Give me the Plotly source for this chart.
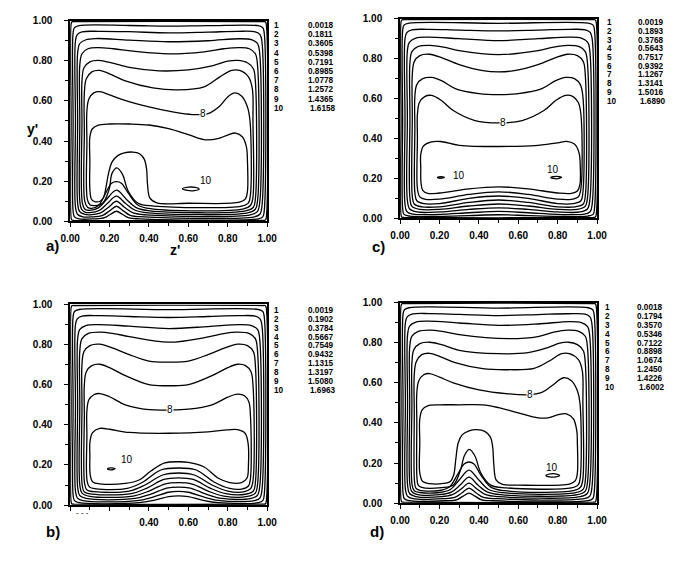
import plotly.graph_objects as go

# ---------------- contour level tables (legend values) ----------------
LEVELS_A = [0.0018, 0.1811, 0.3605, 0.5398, 0.7191, 0.8985, 1.0778, 1.2572, 1.4365, 1.6158]
LEVELS_C = [0.0019, 0.1893, 0.3768, 0.5643, 0.7517, 0.9392, 1.1267, 1.3141, 1.5016, 1.6890]
LEVELS_B = [0.0019, 0.1902, 0.3784, 0.5667, 0.7549, 0.9432, 1.1315, 1.3197, 1.5080, 1.6963]
LEVELS_D = [0.0018, 0.1794, 0.3570, 0.5346, 0.7122, 0.8898, 1.0674, 1.2450, 1.4226, 1.6002]

TICK_VALS = [0.0, 0.2, 0.4, 0.6, 0.8, 1.0]
TICK_TEXT = ["0.00", "0.20", "0.40", "0.60", "0.80", "1.00"]
TICK_TEXT_B_X = ["", "", "0.40", "0.60", "0.80", "1.00"]
MINOR_VALS = [0.1, 0.3, 0.5, 0.7, 0.9]

# ---------------- contour lines: (z', y') ----------------
# panel a
A1 = [(0.005,0.5),(0.005,0.985),(0.009,0.994),(0.02,0.995),(0.98,0.995),(0.991,0.994),(0.995,0.985),(0.995,0.015),(0.991,0.006),(0.98,0.005),(0.02,0.005),(0.009,0.006),(0.005,0.015),(0.005,0.5)]
A2 = [(0.015,0.5),(0.015,0.94),(0.022,0.965),(0.045,0.975),(0.3,0.976),(0.5,0.973),(0.7,0.975),(0.955,0.975),(0.978,0.965),(0.985,0.94),(0.985,0.05),(0.978,0.022),(0.955,0.012),(0.355,0.012),(0.295,0.018),(0.265,0.035),(0.235,0.05),(0.205,0.035),(0.175,0.018),(0.12,0.012),(0.045,0.012),(0.022,0.022),(0.015,0.05),(0.015,0.5)]
A3 = [(0.027,0.5),(0.027,0.9),(0.036,0.93),(0.06,0.944),(0.15,0.947),(0.3,0.945),(0.5,0.939),(0.7,0.943),(0.85,0.947),(0.94,0.944),(0.964,0.93),(0.973,0.9),(0.973,0.07),(0.963,0.035),(0.935,0.022),(0.375,0.022),(0.305,0.03),(0.27,0.052),(0.235,0.075),(0.2,0.052),(0.165,0.03),(0.11,0.022),(0.065,0.022),(0.037,0.035),(0.027,0.07),(0.027,0.5)]
A4 = [(0.038,0.5),(0.038,0.84),(0.048,0.885),(0.08,0.905),(0.13,0.911),(0.3,0.903),(0.5,0.895),(0.7,0.9),(0.86,0.91),(0.92,0.905),(0.952,0.885),(0.962,0.84),(0.962,0.09),(0.95,0.048),(0.915,0.032),(0.385,0.032),(0.32,0.042),(0.275,0.07),(0.235,0.1),(0.195,0.07),(0.155,0.042),(0.1,0.032),(0.075,0.034),(0.048,0.048),(0.038,0.09),(0.038,0.5)]
A5 = [(0.049,0.5),(0.049,0.78),(0.06,0.835),(0.09,0.86),(0.14,0.866),(0.22,0.86),(0.32,0.848),(0.5,0.835),(0.68,0.845),(0.78,0.86),(0.86,0.866),(0.91,0.86),(0.94,0.835),(0.951,0.78),(0.951,0.1),(0.94,0.06),(0.9,0.042),(0.395,0.042),(0.33,0.055),(0.28,0.09),(0.235,0.125),(0.19,0.09),(0.15,0.055),(0.1,0.043),(0.075,0.046),(0.058,0.06),(0.049,0.1),(0.049,0.5)]
A6 = [(0.06,0.5),(0.06,0.7),(0.07,0.765),(0.1,0.795),(0.14,0.802),(0.2,0.792),(0.3,0.767),(0.45,0.75),(0.6,0.755),(0.72,0.775),(0.8,0.798),(0.85,0.802),(0.9,0.79),(0.93,0.76),(0.94,0.7),(0.94,0.11),(0.93,0.07),(0.89,0.052),(0.405,0.052),(0.335,0.068),(0.285,0.11),(0.235,0.155),(0.185,0.11),(0.145,0.068),(0.1,0.054),(0.075,0.06),(0.062,0.09),(0.06,0.5)]
A7 = [(0.072,0.45),(0.072,0.64),(0.082,0.71),(0.11,0.745),(0.15,0.752),(0.2,0.735),(0.28,0.7),(0.42,0.665),(0.55,0.655),(0.68,0.67),(0.76,0.72),(0.82,0.752),(0.86,0.752),(0.905,0.72),(0.925,0.66),(0.928,0.5),(0.928,0.12),(0.916,0.08),(0.88,0.062),(0.415,0.062),(0.345,0.08),(0.295,0.14),(0.26,0.19),(0.235,0.198),(0.21,0.19),(0.18,0.14),(0.145,0.08),(0.11,0.064),(0.088,0.07),(0.074,0.1),(0.072,0.45)]
A8 = [(0.085,0.4),(0.085,0.55),(0.095,0.61),(0.12,0.64),(0.15,0.646),(0.2,0.63),(0.27,0.605),(0.4,0.57),(0.52,0.545),(0.62,0.532),(0.7,0.537),(0.76,0.575),(0.8,0.62),(0.835,0.64),(0.87,0.625),(0.9,0.57),(0.913,0.5),(0.915,0.13),(0.905,0.092),(0.87,0.076),(0.425,0.076),(0.345,0.09),(0.295,0.15),(0.265,0.235),(0.237,0.266),(0.213,0.24),(0.198,0.16),(0.165,0.09),(0.125,0.078),(0.1,0.082),(0.087,0.11),(0.085,0.4)]
A9 = [(0.1,0.3),(0.1,0.42),(0.112,0.46),(0.14,0.478),(0.2,0.485),(0.3,0.485),(0.4,0.48),(0.5,0.462),(0.6,0.432),(0.68,0.407),(0.75,0.412),(0.8,0.43),(0.84,0.44),(0.875,0.42),(0.895,0.37),(0.9,0.3),(0.9,0.15),(0.89,0.112),(0.86,0.095),(0.6,0.09),(0.44,0.092),(0.405,0.115),(0.393,0.18),(0.388,0.26),(0.376,0.31),(0.352,0.337),(0.318,0.345),(0.275,0.341),(0.24,0.326),(0.213,0.296),(0.195,0.24),(0.182,0.17),(0.17,0.12),(0.152,0.1),(0.125,0.098),(0.108,0.11),(0.1,0.16),(0.1,0.3)]
A10 = [(0.57,0.162),(0.6,0.17),(0.635,0.169),(0.655,0.161),(0.63,0.153),(0.595,0.154),(0.57,0.162)]

# panel c
C1 = [(0.005,0.5),(0.005,0.985),(0.009,0.994),(0.02,0.995),(0.98,0.995),(0.991,0.994),(0.995,0.985),(0.995,0.015),(0.991,0.006),(0.98,0.005),(0.02,0.005),(0.009,0.006),(0.005,0.015),(0.005,0.5)]
C2 = [(0.013,0.5),(0.013,0.94),(0.02,0.968),(0.045,0.978),(0.5,0.977),(0.955,0.978),(0.98,0.968),(0.987,0.94),(0.987,0.05),(0.98,0.02),(0.95,0.011),(0.8,0.01),(0.65,0.014),(0.5,0.018),(0.35,0.014),(0.2,0.01),(0.05,0.011),(0.02,0.02),(0.013,0.05),(0.013,0.5)]
C3 = [(0.025,0.5),(0.025,0.9),(0.034,0.93),(0.06,0.944),(0.14,0.947),(0.3,0.943),(0.5,0.939),(0.7,0.943),(0.86,0.947),(0.94,0.944),(0.966,0.93),(0.975,0.9),(0.975,0.07),(0.965,0.033),(0.935,0.021),(0.8,0.02),(0.65,0.028),(0.5,0.035),(0.35,0.028),(0.2,0.02),(0.065,0.021),(0.035,0.033),(0.025,0.07),(0.025,0.5)]
C4 = [(0.037,0.5),(0.037,0.84),(0.047,0.882),(0.08,0.903),(0.14,0.908),(0.3,0.9),(0.5,0.89),(0.7,0.9),(0.86,0.908),(0.92,0.903),(0.953,0.882),(0.963,0.84),(0.963,0.09),(0.951,0.047),(0.915,0.032),(0.8,0.032),(0.65,0.045),(0.5,0.053),(0.35,0.045),(0.2,0.032),(0.085,0.032),(0.049,0.047),(0.037,0.09),(0.037,0.5)]
C5 = [(0.05,0.5),(0.05,0.78),(0.06,0.835),(0.09,0.86),(0.15,0.866),(0.22,0.858),(0.3,0.84),(0.5,0.82),(0.7,0.84),(0.78,0.858),(0.85,0.866),(0.91,0.86),(0.94,0.835),(0.951,0.78),(0.951,0.1),(0.94,0.06),(0.9,0.045),(0.8,0.045),(0.65,0.062),(0.5,0.072),(0.35,0.062),(0.2,0.045),(0.1,0.045),(0.06,0.06),(0.05,0.1),(0.05,0.5)]
C6 = [(0.062,0.5),(0.062,0.72),(0.072,0.785),(0.1,0.815),(0.15,0.822),(0.21,0.805),(0.3,0.77),(0.42,0.74),(0.5,0.734),(0.58,0.74),(0.7,0.77),(0.79,0.805),(0.85,0.822),(0.9,0.815),(0.93,0.785),(0.94,0.72),(0.94,0.11),(0.93,0.072),(0.89,0.058),(0.8,0.058),(0.65,0.08),(0.5,0.092),(0.35,0.08),(0.2,0.058),(0.11,0.058),(0.072,0.072),(0.062,0.11),(0.062,0.5)]
C7 = [(0.075,0.45),(0.075,0.61),(0.085,0.67),(0.115,0.7),(0.16,0.706),(0.21,0.69),(0.28,0.65),(0.4,0.625),(0.5,0.62),(0.6,0.625),(0.72,0.65),(0.79,0.69),(0.84,0.706),(0.885,0.7),(0.915,0.67),(0.928,0.61),(0.928,0.13),(0.918,0.088),(0.88,0.074),(0.8,0.074),(0.65,0.1),(0.5,0.112),(0.35,0.1),(0.2,0.074),(0.12,0.074),(0.085,0.088),(0.075,0.13),(0.075,0.45)]
C8 = [(0.088,0.4),(0.088,0.52),(0.098,0.58),(0.125,0.61),(0.16,0.616),(0.21,0.59),(0.27,0.54),(0.38,0.49),(0.5,0.478),(0.62,0.49),(0.73,0.54),(0.79,0.59),(0.84,0.616),(0.878,0.61),(0.905,0.58),(0.918,0.52),(0.918,0.15),(0.905,0.108),(0.87,0.095),(0.8,0.096),(0.65,0.12),(0.5,0.133),(0.35,0.12),(0.2,0.096),(0.13,0.095),(0.1,0.108),(0.088,0.15),(0.088,0.4)]
C9 = [(0.105,0.25),(0.105,0.32),(0.118,0.362),(0.155,0.382),(0.205,0.385),(0.3,0.366),(0.5,0.36),(0.7,0.366),(0.8,0.378),(0.845,0.386),(0.885,0.372),(0.908,0.33),(0.915,0.25),(0.913,0.17),(0.9,0.137),(0.87,0.125),(0.8,0.127),(0.65,0.148),(0.5,0.158),(0.35,0.148),(0.2,0.127),(0.14,0.125),(0.115,0.14),(0.106,0.18),(0.105,0.25)]
C10 = [(0.19,0.205),(0.205,0.209),(0.225,0.206),(0.205,0.201),(0.19,0.205)]
C11 = [(0.765,0.204),(0.79,0.21),(0.82,0.206),(0.795,0.198),(0.765,0.204)]

# panel b
B1 = [(0.005,0.5),(0.005,0.985),(0.009,0.994),(0.02,0.995),(0.98,0.995),(0.991,0.994),(0.995,0.985),(0.995,0.015),(0.991,0.006),(0.98,0.005),(0.02,0.005),(0.009,0.006),(0.005,0.015),(0.005,0.5)]
B2 = [(0.015,0.5),(0.015,0.94),(0.022,0.965),(0.045,0.975),(0.5,0.974),(0.955,0.975),(0.978,0.965),(0.985,0.94),(0.985,0.05),(0.978,0.022),(0.955,0.012),(0.75,0.012),(0.67,0.025),(0.6,0.042),(0.55,0.046),(0.5,0.042),(0.43,0.025),(0.35,0.012),(0.045,0.012),(0.022,0.022),(0.015,0.05),(0.015,0.5)]
B3 = [(0.027,0.5),(0.027,0.9),(0.036,0.928),(0.06,0.942),(0.15,0.944),(0.3,0.94),(0.5,0.935),(0.7,0.94),(0.85,0.944),(0.94,0.942),(0.964,0.928),(0.973,0.9),(0.973,0.07),(0.963,0.035),(0.935,0.022),(0.76,0.022),(0.68,0.04),(0.6,0.064),(0.55,0.068),(0.5,0.064),(0.42,0.04),(0.34,0.022),(0.065,0.022),(0.037,0.035),(0.027,0.07),(0.027,0.5)]
B4 = [(0.038,0.5),(0.038,0.83),(0.048,0.875),(0.08,0.895),(0.14,0.9),(0.3,0.892),(0.5,0.88),(0.7,0.89),(0.86,0.9),(0.92,0.895),(0.952,0.875),(0.962,0.83),(0.962,0.09),(0.95,0.048),(0.915,0.032),(0.77,0.033),(0.69,0.055),(0.61,0.085),(0.55,0.09),(0.49,0.085),(0.41,0.055),(0.33,0.033),(0.08,0.033),(0.048,0.048),(0.038,0.09),(0.038,0.5)]
B5 = [(0.049,0.5),(0.049,0.77),(0.06,0.83),(0.09,0.855),(0.15,0.862),(0.22,0.855),(0.3,0.84),(0.5,0.812),(0.7,0.838),(0.78,0.855),(0.85,0.862),(0.91,0.855),(0.94,0.83),(0.951,0.77),(0.951,0.1),(0.94,0.06),(0.9,0.043),(0.78,0.045),(0.7,0.07),(0.62,0.105),(0.55,0.112),(0.48,0.105),(0.4,0.07),(0.32,0.045),(0.1,0.044),(0.06,0.06),(0.049,0.1),(0.049,0.5)]
B6 = [(0.06,0.5),(0.06,0.7),(0.07,0.765),(0.1,0.795),(0.15,0.802),(0.21,0.785),(0.3,0.75),(0.4,0.718),(0.5,0.713),(0.6,0.718),(0.7,0.75),(0.79,0.785),(0.85,0.802),(0.9,0.795),(0.93,0.765),(0.94,0.7),(0.94,0.11),(0.93,0.07),(0.89,0.054),(0.79,0.057),(0.71,0.085),(0.625,0.128),(0.55,0.136),(0.475,0.128),(0.39,0.085),(0.31,0.057),(0.11,0.055),(0.072,0.065),(0.061,0.1),(0.06,0.5)]
B7 = [(0.072,0.45),(0.072,0.6),(0.082,0.665),(0.11,0.695),(0.15,0.702),(0.2,0.685),(0.28,0.645),(0.4,0.6),(0.5,0.595),(0.6,0.6),(0.72,0.645),(0.8,0.685),(0.85,0.702),(0.89,0.695),(0.918,0.665),(0.928,0.6),(0.928,0.12),(0.916,0.082),(0.88,0.066),(0.8,0.07),(0.72,0.1),(0.63,0.15),(0.55,0.16),(0.47,0.15),(0.38,0.1),(0.3,0.07),(0.12,0.067),(0.085,0.075),(0.073,0.11),(0.072,0.45)]
B8 = [(0.085,0.35),(0.085,0.47),(0.095,0.525),(0.12,0.55),(0.15,0.556),(0.2,0.54),(0.28,0.5),(0.4,0.476),(0.5,0.474),(0.6,0.478),(0.72,0.5),(0.8,0.538),(0.85,0.553),(0.885,0.545),(0.907,0.515),(0.915,0.45),(0.915,0.13),(0.905,0.095),(0.87,0.08),(0.81,0.083),(0.73,0.115),(0.64,0.175),(0.55,0.185),(0.46,0.175),(0.37,0.115),(0.29,0.083),(0.13,0.081),(0.098,0.09),(0.086,0.12),(0.085,0.35)]
B9 = [(0.1,0.25),(0.1,0.31),(0.113,0.36),(0.15,0.382),(0.2,0.378),(0.3,0.362),(0.5,0.358),(0.7,0.365),(0.8,0.375),(0.85,0.376),(0.888,0.358),(0.903,0.31),(0.905,0.2),(0.898,0.135),(0.87,0.112),(0.81,0.112),(0.75,0.135),(0.68,0.19),(0.6,0.213),(0.55,0.216),(0.48,0.21),(0.41,0.17),(0.35,0.125),(0.28,0.108),(0.15,0.106),(0.115,0.115),(0.102,0.15),(0.1,0.25)]
B10 = [(0.19,0.18),(0.205,0.185),(0.228,0.182),(0.208,0.176),(0.19,0.18)]

# panel d
D1 = [(0.005,0.5),(0.005,0.985),(0.009,0.994),(0.02,0.995),(0.98,0.995),(0.991,0.994),(0.995,0.985),(0.995,0.015),(0.991,0.006),(0.98,0.005),(0.02,0.005),(0.009,0.006),(0.005,0.015),(0.005,0.5)]
D2 = [(0.015,0.5),(0.015,0.94),(0.022,0.964),(0.045,0.974),(0.5,0.972),(0.955,0.974),(0.978,0.964),(0.985,0.94),(0.985,0.05),(0.978,0.022),(0.955,0.012),(0.47,0.012),(0.41,0.018),(0.38,0.035),(0.35,0.05),(0.32,0.035),(0.29,0.018),(0.23,0.012),(0.045,0.012),(0.022,0.022),(0.015,0.05),(0.015,0.5)]
D3 = [(0.027,0.5),(0.027,0.9),(0.036,0.928),(0.06,0.942),(0.15,0.945),(0.3,0.941),(0.5,0.935),(0.7,0.94),(0.85,0.944),(0.94,0.942),(0.964,0.928),(0.973,0.9),(0.973,0.07),(0.963,0.035),(0.935,0.022),(0.49,0.022),(0.42,0.03),(0.385,0.052),(0.35,0.075),(0.315,0.052),(0.28,0.03),(0.22,0.022),(0.065,0.022),(0.037,0.035),(0.027,0.07),(0.027,0.5)]
D4 = [(0.038,0.5),(0.038,0.84),(0.048,0.882),(0.08,0.902),(0.14,0.907),(0.3,0.898),(0.5,0.886),(0.7,0.893),(0.86,0.905),(0.92,0.9),(0.952,0.88),(0.962,0.84),(0.962,0.09),(0.95,0.048),(0.915,0.032),(0.5,0.032),(0.435,0.042),(0.39,0.07),(0.35,0.1),(0.31,0.07),(0.265,0.042),(0.21,0.032),(0.08,0.033),(0.048,0.048),(0.038,0.09),(0.038,0.5)]
D5 = [(0.049,0.5),(0.049,0.78),(0.06,0.832),(0.09,0.855),(0.15,0.862),(0.22,0.855),(0.3,0.84),(0.55,0.82),(0.7,0.83),(0.78,0.852),(0.85,0.862),(0.91,0.855),(0.94,0.832),(0.951,0.78),(0.951,0.1),(0.94,0.06),(0.9,0.042),(0.51,0.042),(0.445,0.055),(0.395,0.09),(0.35,0.13),(0.305,0.09),(0.26,0.055),(0.2,0.042),(0.08,0.045),(0.058,0.06),(0.049,0.1),(0.049,0.5)]
D6 = [(0.06,0.5),(0.06,0.7),(0.07,0.765),(0.1,0.795),(0.15,0.802),(0.21,0.79),(0.3,0.762),(0.5,0.745),(0.65,0.75),(0.75,0.775),(0.81,0.797),(0.855,0.802),(0.9,0.79),(0.93,0.76),(0.94,0.7),(0.94,0.11),(0.93,0.07),(0.89,0.052),(0.52,0.052),(0.45,0.068),(0.4,0.115),(0.35,0.165),(0.3,0.115),(0.255,0.068),(0.2,0.053),(0.1,0.053),(0.072,0.062),(0.061,0.09),(0.06,0.5)]
D7 = [(0.072,0.45),(0.072,0.64),(0.082,0.705),(0.11,0.74),(0.15,0.747),(0.2,0.732),(0.28,0.7),(0.42,0.67),(0.55,0.665),(0.68,0.672),(0.76,0.71),(0.82,0.745),(0.86,0.745),(0.905,0.715),(0.925,0.66),(0.928,0.5),(0.928,0.12),(0.916,0.08),(0.88,0.062),(0.53,0.062),(0.46,0.08),(0.41,0.14),(0.375,0.195),(0.35,0.205),(0.325,0.195),(0.29,0.14),(0.25,0.08),(0.2,0.063),(0.1,0.064),(0.08,0.075),(0.073,0.11),(0.072,0.45)]
D8 = [(0.085,0.4),(0.085,0.55),(0.095,0.61),(0.12,0.64),(0.15,0.646),(0.2,0.628),(0.27,0.6),(0.4,0.565),(0.55,0.545),(0.65,0.54),(0.72,0.552),(0.77,0.585),(0.83,0.625),(0.87,0.61),(0.9,0.56),(0.913,0.5),(0.915,0.13),(0.905,0.092),(0.87,0.076),(0.54,0.076),(0.46,0.09),(0.41,0.15),(0.38,0.235),(0.352,0.268),(0.328,0.24),(0.305,0.16),(0.27,0.09),(0.21,0.077),(0.11,0.078),(0.092,0.09),(0.086,0.12),(0.085,0.4)]
D9 = [(0.1,0.3),(0.1,0.42),(0.112,0.465),(0.14,0.485),(0.2,0.49),(0.3,0.49),(0.42,0.49),(0.5,0.476),(0.6,0.45),(0.7,0.425),(0.75,0.425),(0.8,0.44),(0.845,0.445),(0.88,0.42),(0.897,0.36),(0.9,0.3),(0.9,0.15),(0.89,0.112),(0.86,0.095),(0.6,0.09),(0.52,0.093),(0.488,0.115),(0.476,0.19),(0.47,0.28),(0.458,0.33),(0.43,0.358),(0.39,0.366),(0.35,0.36),(0.315,0.34),(0.295,0.3),(0.283,0.22),(0.272,0.14),(0.255,0.108),(0.22,0.098),(0.15,0.097),(0.115,0.108),(0.1,0.15),(0.1,0.3)]
D10 = [(0.74,0.138),(0.765,0.146),(0.795,0.145),(0.81,0.138),(0.79,0.131),(0.76,0.131),(0.74,0.138)]

# in-plot contour labels: (text, z', y')
LABELS_A = [("8", 0.675, 0.535), ("10", 0.69, 0.205)]
LABELS_C = [("8", 0.52, 0.478), ("10", 0.30, 0.215), ("10", 0.775, 0.245)]
LABELS_B = [("8", 0.505, 0.475), ("10", 0.29, 0.225)]
LABELS_D = [("8", 0.66, 0.542), ("10", 0.77, 0.18)]

# ---------------- layout (pixels in a 675 x 561 page) ----------------
W, H = 675, 561
FONT = "Liberation Sans, Arial, Helvetica, sans-serif"
LEG_SIZE = 8.2

panels = [
    # name, lines, levels, labels, box px (x0, x1, ytop, ybot), legend px (idx_x, val_right, row0, step), x tick text
    ("a", [A1, A2, A3, A4, A5, A6, A7, A8, A9, A10], LEVELS_A, LABELS_A, (62, 265, 15, 220), (271, 334, 20, 9.4), TICK_TEXT),
    ("c", [C1, C2, C3, C4, C5, C6, C7, C8, C9, C10, C11], LEVELS_C, LABELS_C, (402, 605, 13, 217), (614, 674, 17, 8.9), TICK_TEXT),
    ("b", [B1, B2, B3, B4, B5, B6, B7, B8, B9, B10], LEVELS_B, LABELS_B, (62, 265, 305, 510), (271, 334, 311, 9.1), TICK_TEXT_B_X),
    ("d", [D1, D2, D3, D4, D5, D6, D7, D8, D9, D10], LEVELS_D, LABELS_D, (402, 605, 303, 508), (612, 673, 308, 9.1), TICK_TEXT),
]

fig = go.Figure()
annotations = []

def px_x(x):
    return x / W

def px_y(y):
    return 1 - y / H

for i, (name, lines, levels, labels, box, leg, xtt) in enumerate(panels):
    sfx = "" if i == 0 else str(i + 1)
    xa, ya = "x" + sfx, "y" + sfx
    x0, x1, yt, yb = box
    axis_common = dict(
        range=[0, 1], showgrid=False, zeroline=False, showline=True, mirror=True,
        linecolor="black", linewidth=1.7, ticks="outside", ticklen=4, tickwidth=1.2,
        tickcolor="black", tickvals=TICK_VALS,
        tickfont=dict(family=FONT, size=10, color="black", weight="bold"),
        minor=dict(tickvals=MINOR_VALS, ticks="outside", ticklen=3, tickwidth=1.2, tickcolor="black"),
        fixedrange=True,
    )
    fig.update_layout(**{
        "xaxis" + sfx: dict(axis_common, domain=[px_x(x0), px_x(x1)], anchor=ya, ticktext=xtt, ticklabelstandoff=3),
        "yaxis" + sfx: dict(axis_common, domain=[px_y(yb), px_y(yt)], anchor=xa, ticktext=TICK_TEXT, ticklabelstandoff=10),
    })
    for pts in lines:
        fig.add_trace(go.Scatter(
            x=[p[0] for p in pts], y=[p[1] for p in pts], xaxis=xa, yaxis=ya,
            mode="lines", line=dict(color="black", width=1.3, shape="spline", smoothing=1.0),
            hoverinfo="skip", showlegend=False,
        ))
    for txt, zx, zy in labels:
        annotations.append(dict(
            x=zx, y=zy, xref=xa, yref=ya, text=txt, showarrow=False,
            font=dict(family=FONT, size=10, color="black"),
            bgcolor="white" if txt == "8" else "rgba(0,0,0,0)", borderpad=0,
        ))
    # legend of contour levels
    ix, vr, r0, st = leg
    for k, val in enumerate(levels):
        yy = px_y(r0 + k * st)
        annotations.append(dict(x=px_x(ix), y=yy, xref="paper", yref="paper", text=str(k + 1),
                                showarrow=False, xanchor="left", yanchor="middle", borderpad=0,
                                font=dict(family=FONT, size=LEG_SIZE, color="black", weight="bold")))
        annotations.append(dict(x=px_x(vr + (2 if k == 9 else 0)), y=yy, xref="paper", yref="paper",
                                text=f"{val:.4f}", showarrow=False, xanchor="right", yanchor="middle", borderpad=0,
                                font=dict(family=FONT, size=LEG_SIZE, color="black", weight="bold")))

# panel letters and axis titles
for txt, x, y in [("a)", 35, 245), ("c)", 380, 246), ("b)", 35, 548), ("d)", 378, 548)]:
    annotations.append(dict(x=px_x(x), y=px_y(y), xref="paper", yref="paper", text=txt, showarrow=False,
                            font=dict(family=FONT, size=15, color="black", weight="bold")))
annotations.append(dict(x=px_x(15), y=px_y(115), xref="paper", yref="paper", text="y'", showarrow=False,
                        font=dict(family=FONT, size=14, color="black", weight="bold")))
annotations.append(dict(x=px_x(163), y=px_y(249), xref="paper", yref="paper", text="z'", showarrow=False,
                        font=dict(family=FONT, size=14, color="black", weight="bold")))
annotations.append(dict(x=px_x(66), y=px_y(524), xref="paper", yref="paper", text="- - -", showarrow=False,
                        font=dict(family=FONT, size=8, color="black")))

fig.update_layout(
    width=W, height=H, margin=dict(l=0, r=0, t=0, b=0),
    paper_bgcolor="white", plot_bgcolor="white",
    annotations=annotations, showlegend=False,
)

fig.write_html("out.html")
